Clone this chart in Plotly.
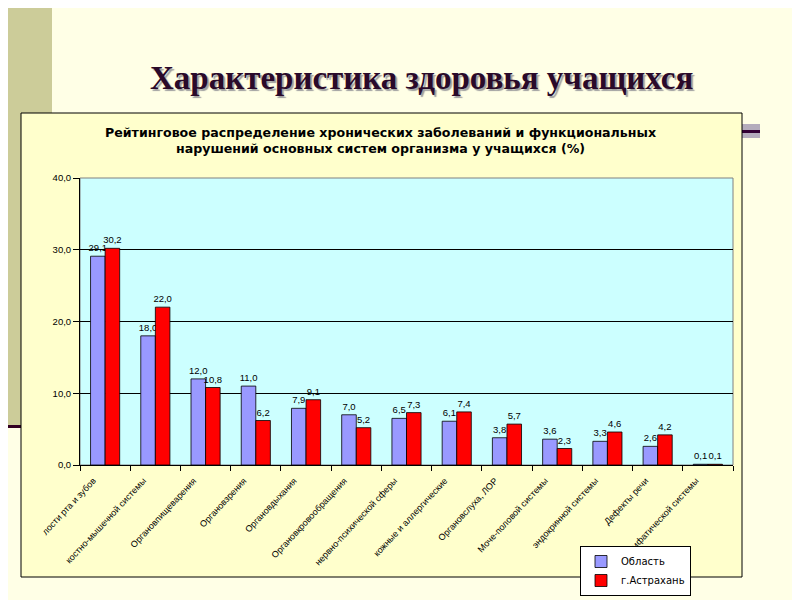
import plotly.graph_objects as go

categories = [
    "лости рта и зубов",
    "костно-мышечной системы",
    "Органовпищеварения",
    "Органовзрения",
    "Органовдыхания",
    "Органовкровообращения",
    "нервно-психической сферы",
    "кожные и аллергические",
    "Органовслуха, ЛОР",
    "Моче-половой системы",
    "эндокринной системы",
    "Дефекты речи",
    "лимфатической системы",
]
oblast = [29.1, 18.0, 12.0, 11.0, 7.9, 7.0, 6.5, 6.1, 3.8, 3.6, 3.3, 2.6, 0.1]
astrakhan = [30.2, 22.0, 10.8, 6.2, 9.1, 5.2, 7.3, 7.4, 5.7, 2.3, 4.6, 4.2, 0.1]
series_names = ["Область", "г.Астрахань"]
y_ticks = [0, 10, 20, 30, 40]


def fmt(v):
    return f"{v:.1f}".replace(".", ",")


# page offset (browser body margin)
OFF = 8
# pixel geometry of the plot area in the target window
PL, PR, PT, PB = 80, 733, 178, 465
W = PR - PL
H = PB - PT


def px(x):
    return (x - PL) / W


def py(y):
    return (PB - y) / H


fig = go.Figure()
lbl_font = dict(family="Arial, Liberation Sans", size=9.5, color="black")
fig.add_trace(go.Bar(
    name=series_names[0], x=categories, y=oblast,
    text=[fmt(v) for v in oblast], textposition="outside",
    textfont=lbl_font, cliponaxis=False, constraintext="none",
    marker=dict(color="#9999FF", line=dict(color="black", width=0.8)),
))
fig.add_trace(go.Bar(
    name=series_names[1], x=categories, y=astrakhan,
    text=[fmt(v) for v in astrakhan], textposition="outside",
    textfont=lbl_font, cliponaxis=False, constraintext="none",
    marker=dict(color="#FF0000", line=dict(color="black", width=0.8)),
))

shapes = [
    # olive side bar
    dict(type="rect", xref="paper", yref="paper", x0=px(-10), x1=px(52), y0=py(425), y1=py(-10),
         fillcolor="#CCCC99", line=dict(width=0), layer="below"),
    dict(type="rect", xref="paper", yref="paper", x0=px(-10), x1=px(52), y0=py(428), y1=py(425),
         fillcolor="#330022", line=dict(width=0), layer="below"),
    # right decoration
    dict(type="rect", xref="paper", yref="paper", x0=px(742), x1=px(760), y0=py(138), y1=py(124),
         fillcolor="#B4ACBC", line=dict(width=0), layer="below"),
    dict(type="rect", xref="paper", yref="paper", x0=px(742), x1=px(760), y0=py(133), y1=py(130),
         fillcolor="#330033", line=dict(width=0), layer="below"),
    # chart box
    dict(type="rect", xref="paper", yref="paper", x0=px(21), x1=px(742), y0=py(577), y1=py(113),
         fillcolor="#FFFFCC", line=dict(color="black", width=1), layer="below"),
    # plot area
    dict(type="rect", xref="paper", yref="paper", x0=0, x1=1, y0=0, y1=1,
         fillcolor="#CCFFFF", line=dict(color="#808080", width=1), layer="below"),
]

annotations = [
    dict(text="<b>Характеристика здоровья учащихся</b>", xref="paper", yref="paper",
         x=px(422), y=py(78), xanchor="center", yanchor="middle", showarrow=False,
         font=dict(family="Liberation Serif, Times New Roman", size=33, color="#2A0A2A",
                   shadow="2px 2px 1px #A0A0A0")),
    dict(text="<b>Рейтинговое распределение хронических заболеваний и функциональных<br>"
              "нарушений основных систем организма у учащихся (%)</b>",
         xref="paper", yref="paper", x=px(380), y=py(140), xanchor="center", yanchor="middle",
         showarrow=False, align="center",
         font=dict(family="DejaVu Sans", size=12.6, color="black")),
]

fig.update_layout(
    width=800, height=600,
    margin=dict(l=PL - OFF, r=800 - PR + OFF, t=PT - OFF, b=600 - PB + OFF, autoexpand=False),
    paper_bgcolor="#FFFFE6",
    plot_bgcolor="rgba(0,0,0,0)",
    barmode="group", bargap=0.42, bargroupgap=0,
    separators=", ",
    shapes=shapes, annotations=annotations,
    showlegend=True,
    legend=dict(x=px(580), y=py(546), xanchor="left", yanchor="top",
                bgcolor="white", bordercolor="black", borderwidth=1,
                font=dict(family="DejaVu Sans", size=10, color="black"),
                itemwidth=30, tracegroupgap=0),
    yaxis=dict(range=[0, 40], tickvals=y_ticks, tickformat=".1f",
               showgrid=True, gridcolor="black", gridwidth=1,
               showline=True, linecolor="black", linewidth=1,
               ticks="outside", ticklen=6, tickcolor="black",
               tickfont=dict(family="Arial, Liberation Sans", size=9.5, color="black"),
               zeroline=False, automargin=False),
    xaxis=dict(tickangle=-47, showline=True, linecolor="black", linewidth=1,
               ticks="outside", ticklen=5, tickcolor="black", tickson="boundaries",
               ticklabelshift=-12, ticklabelstandoff=6,
               tickfont=dict(family="Arial, Liberation Sans", size=9, color="black"),
               showgrid=False, automargin=False),
)

fig.write_html("out.html")
